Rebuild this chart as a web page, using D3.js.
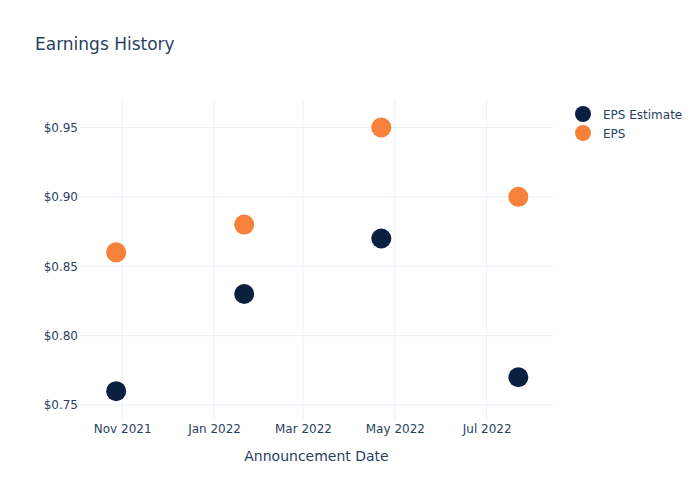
<!DOCTYPE html>
<html>
<head>
<meta charset="utf-8">
<script src="https://cdn.jsdelivr.net/npm/d3@7"></script>
<style>
body { margin: 0; background: #fff; }
text { font-family: "DejaVu Sans", Verdana, sans-serif; fill: #2a3f5f; }
</style>
</head>
<body>
<svg id="chart" width="700" height="500"></svg>
<script>
const dates = ["2021-10-28", "2022-01-21", "2022-04-22", "2022-07-22"];
const epsEstimate = [0.76, 0.83, 0.87, 0.77];
const eps = [0.86, 0.88, 0.95, 0.90];
const yTicks = [0.75, 0.80, 0.85, 0.90, 0.95];
const xTicks = ["2021-11-01", "2022-01-01", "2022-03-01", "2022-05-01", "2022-07-01"];
const seriesNames = ["EPS Estimate", "EPS"];
const colors = ["#0b1f41", "#f7803a"];

const parse = d3.utcParse("%Y-%m-%d");
const svg = d3.select("#chart");
const L = 80, R = 553, T = 100, B = 420;

const x = d3.scaleUtc()
  .domain([parse("2021-10-04"), parse("2022-08-14")])
  .range([L, R]);
const y = d3.scaleLinear().domain([0.7392, 0.9698]).range([B, T]);

// grid
svg.append("g").selectAll("line").data(xTicks).join("line")
  .attr("x1", d => x(parse(d))).attr("x2", d => x(parse(d)))
  .attr("y1", T).attr("y2", B)
  .attr("stroke", "#ebf0f8").attr("stroke-width", 1);
svg.append("g").selectAll("line").data(yTicks).join("line")
  .attr("x1", L).attr("x2", R)
  .attr("y1", d => y(d)).attr("y2", d => y(d))
  .attr("stroke", "#ebf0f8").attr("stroke-width", 1);

// axes
const xAxis = d3.axisBottom(x).tickValues(xTicks.map(parse))
  .tickFormat(d3.utcFormat("%b %Y")).tickSize(0).tickPadding(4);
svg.append("g").attr("transform", `translate(0,${B})`).call(xAxis)
  .call(g => g.select(".domain").remove())
  .selectAll("text").attr("font-size", 12).style("fill", "#2a3f5f");

const yAxis = d3.axisLeft(y).tickValues(yTicks)
  .tickFormat(d => "$" + d3.format(".2f")(d)).tickSize(0).tickPadding(2);
svg.append("g").attr("transform", `translate(${L},0)`).call(yAxis)
  .call(g => g.select(".domain").remove())
  .selectAll("text").attr("font-size", 12).style("fill", "#2a3f5f");

// points
const series = [epsEstimate, eps];
series.forEach((vals, i) => {
  svg.append("g").selectAll("circle").data(vals).join("circle")
    .attr("cx", (d, j) => x(parse(dates[j])))
    .attr("cy", d => y(d))
    .attr("r", 10)
    .attr("fill", colors[i]);
});

// title
svg.append("text").attr("x", 35).attr("y", 50)
  .attr("font-size", 17).text("Earnings History");

// x axis title
svg.append("text").attr("x", (L + R) / 2).attr("y", 461)
  .attr("text-anchor", "middle").attr("font-size", 14)
  .text("Announcement Date");

// legend
seriesNames.forEach((n, i) => {
  const ly = 114 + i * 19;
  svg.append("circle").attr("cx", 583).attr("cy", ly).attr("r", 8).attr("fill", colors[i]);
  svg.append("text").attr("x", 603).attr("y", ly + 4.5).attr("font-size", 12).text(n);
});
</script>
</body>
</html>
